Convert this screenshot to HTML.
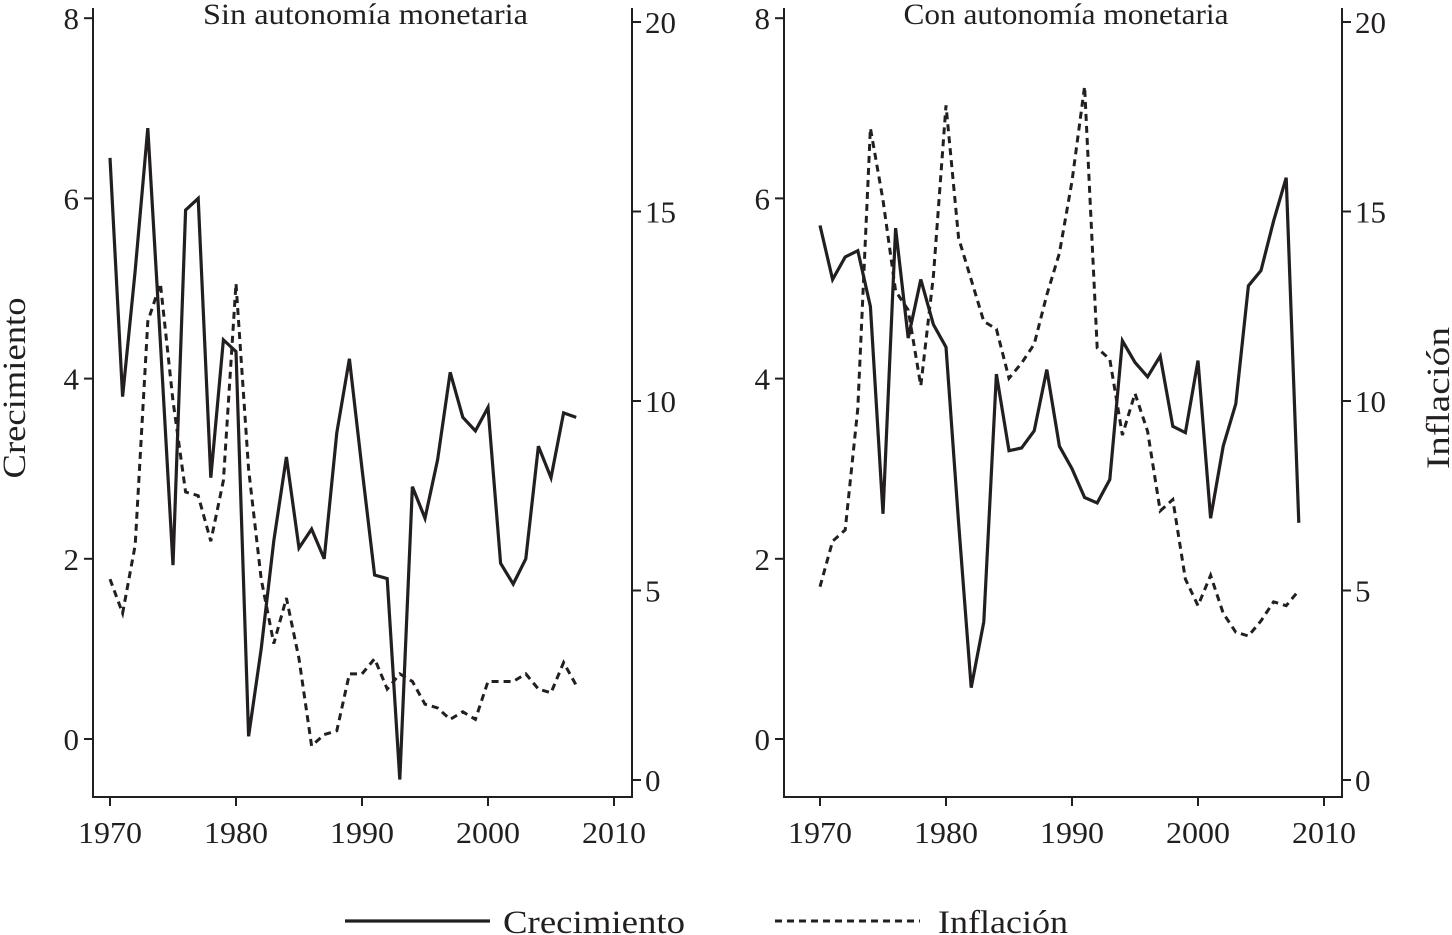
<!DOCTYPE html>
<html><head><meta charset="utf-8"><style>
html,body{margin:0;padding:0;background:#fff}
svg{display:block}
text{font-family:"Liberation Serif",serif;fill:#231f20}
</style></head><body>
<svg id="c" width="1452" height="935" viewBox="0 0 1452 935"></svg>
<script>
const yearsL=[1970,1971,1972,1973,1974,1975,1976,1977,1978,1979,1980,1981,1982,1983,1984,1985,1986,1987,1988,1989,1990,1991,1992,1993,1994,1995,1996,1997,1998,1999,2000,2001,2002,2003,2004,2005,2006,2007];
const growthL=[6.45,3.8,5.2,6.78,4.4,1.93,5.87,6.0,2.9,4.43,4.3,0.03,1.0,2.2,3.13,2.12,2.33,2.0,3.4,4.22,3.0,1.82,1.78,-0.45,2.8,2.45,3.1,4.07,3.57,3.42,3.68,1.95,1.72,2.0,3.25,2.9,3.62,3.57];
const inflL=[5.3,4.4,6.2,12.1,13.1,10.0,7.6,7.5,6.3,7.9,13.1,8.2,5.3,3.6,4.8,3.2,0.9,1.2,1.3,2.8,2.8,3.2,2.4,2.8,2.6,2.0,1.9,1.6,1.8,1.6,2.6,2.6,2.6,2.8,2.4,2.3,3.1,2.5];
const yearsR=[1970,1971,1972,1973,1974,1975,1976,1977,1978,1979,1980,1981,1982,1983,1984,1985,1986,1987,1988,1989,1990,1991,1992,1993,1994,1995,1996,1997,1998,1999,2000,2001,2002,2003,2004,2005,2006,2007,2008];
const growthR=[5.7,5.1,5.35,5.42,4.8,2.5,5.67,4.45,5.1,4.6,4.35,2.4,0.57,1.3,4.05,3.2,3.23,3.42,4.1,3.25,3.0,2.68,2.62,2.88,4.42,4.18,4.02,4.25,3.47,3.4,4.2,2.45,3.25,3.72,5.03,5.2,5.75,6.23,2.4];
const inflR=[5.1,6.3,6.6,9.8,17.2,15.3,12.9,12.4,10.4,13.3,17.8,14.3,13.2,12.1,11.9,10.6,11.0,11.5,12.8,13.9,15.8,18.3,11.4,11.1,9.1,10.2,9.2,7.1,7.4,5.3,4.6,5.4,4.4,3.9,3.8,4.2,4.7,4.6,5.0];
const xTicks=[1970,1980,1990,2000,2010];
const gTicks=[0,2,4,6,8];
const iTicks=[0,5,10,15,20];
const titles=["Sin autonomía monetaria","Con autonomía monetaria"];

const svg=document.getElementById('c');
const NS='http://www.w3.org/2000/svg';
function el(tag,attrs,parent){const e=document.createElementNS(NS,tag);for(const k in attrs)e.setAttribute(k,attrs[k]);(parent||svg).appendChild(e);return e;}
const yG=v=>739-v*90.1;
const yI=v=>780-v*37.9;

function panel(idx,x0,x1,x1970,years,g,inf){
  const gp=el('g',{},svg);
  
  
  const xs=v=>x1970+(v-1970)*12.6;
  const st={stroke:'#231f20','stroke-width':2,fill:'none'};
  const ax=el('path',Object.assign({d:`M${x0},8 V797 H${x1} V8`},st),gp);
  
  gTicks.forEach(v=>{
    el('line',Object.assign({x1:x0-9,x2:x0,y1:yG(v),y2:yG(v)},st),gp);
    const t=el('text',{x:x0-14,y:yG(v)+11,'text-anchor':'end','font-size':31},gp);t.textContent=v;
    
  });
  iTicks.forEach(v=>{
    el('line',Object.assign({x1:x1,x2:x1+9,y1:yI(v),y2:yI(v)},st),gp);
    const t=el('text',{x:x1+13,y:yI(v)+11,'font-size':31},gp);t.textContent=v;
    
  });
  xTicks.forEach(v=>{
    el('line',Object.assign({x1:xs(v),x2:xs(v),y1:797,y2:806},st),gp);
    const t=el('text',{x:xs(v),y:843,'text-anchor':'middle','font-size':31,textLength:64,lengthAdjust:'spacingAndGlyphs'},gp);t.textContent=v;
    
  });
  const tt=el('text',{x:(x0+x1)/2+3,y:24,'text-anchor':'middle','font-size':30,textLength:325,lengthAdjust:'spacingAndGlyphs'},gp);tt.textContent=titles[idx];
  
  const pg=el('polyline',{points:years.map((y,i)=>xs(y)+','+yG(g[i])).join(' '),stroke:'#231f20','stroke-width':3.2,fill:'none','stroke-linejoin':'miter'},gp);
  
  const pi=el('polyline',{points:years.map((y,i)=>xs(y)+','+yI(inf[i])).join(' '),stroke:'#231f20','stroke-width':3,fill:'none','stroke-dasharray':'7,5'},gp);
  
}
panel(0,93,632,110,yearsL,growthL,inflL);
panel(1,784,1342,820,yearsR,growthR,inflR);

const yl=el('text',{x:0,y:0,'text-anchor':'middle','font-size':33,textLength:181,lengthAdjust:'spacingAndGlyphs',transform:'translate(25,388) rotate(-90)'});
yl.textContent='Crecimiento';

const yr=el('text',{x:0,y:0,'text-anchor':'middle','font-size':33,textLength:142,lengthAdjust:'spacingAndGlyphs',transform:'translate(1449,398) rotate(-90)'});
yr.textContent='Inflación';


const lg=el('g',{});

const l1=el('line',{x1:345,x2:490,y1:921,y2:921,stroke:'#231f20','stroke-width':3.2},lg);

const t1=el('text',{x:503,y:933,'font-size':33,textLength:182,lengthAdjust:'spacingAndGlyphs'},lg);t1.textContent='Crecimiento';

const l2=el('line',{x1:775,x2:920,y1:921,y2:921,stroke:'#231f20','stroke-width':3,'stroke-dasharray':'7,5'},lg);

const t2=el('text',{x:938,y:933,'font-size':33,textLength:130,lengthAdjust:'spacingAndGlyphs'},lg);t2.textContent='Inflación';

</script>
</body></html>
